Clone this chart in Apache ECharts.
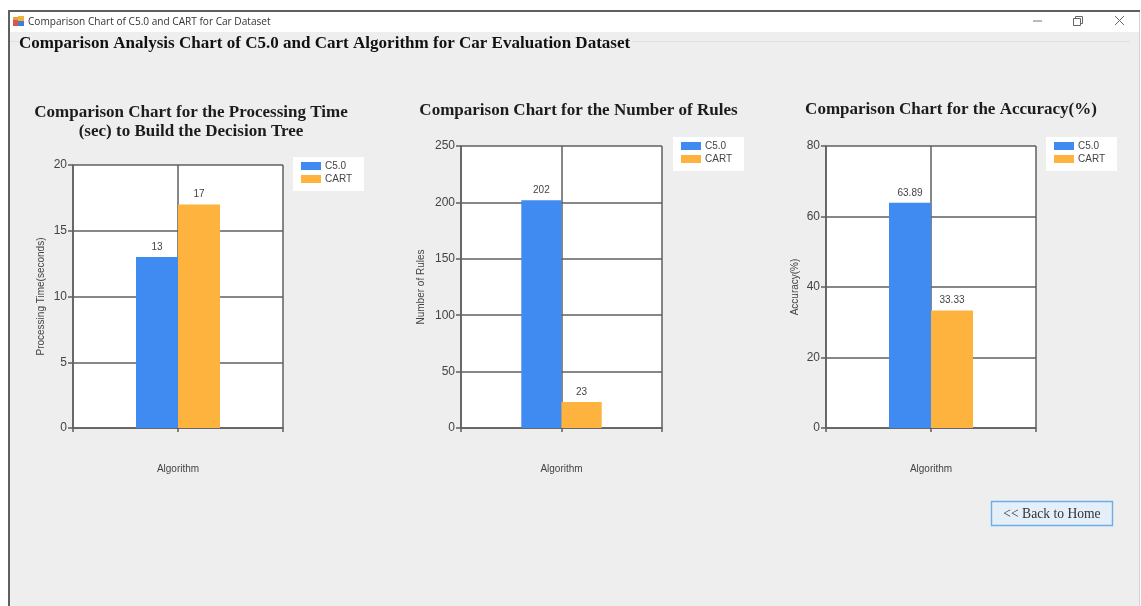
<!DOCTYPE html>
<html>
<head>
<meta charset="utf-8">
<style>
  html, body { margin: 0; padding: 0; background: #fff; }
  #chart { width: 1141px; height: 606px; }
</style>
<script src="https://cdn.jsdelivr.net/npm/echarts@6/dist/echarts.min.js"></script>
</head>
<body>
<div id="chart"></div>
<script>
// Results for the car evaluation dataset
const algorithms = ['C5.0', 'CART'];
const processingTime = [13, 17];
const ruleCount = [202, 23];
const accuracy = [63.89, 33.33];

const windowTitle = 'Comparison Chart of C5.0 and CART for Car Dataset';
const formHeading = 'Comparison Analysis Chart of C5.0 and Cart Algorithm for Car Evaluation Dataset';
const xAxisName = 'Algorithm';
const backLabel = '<< Back to Home';

const colors = ['#3f8bf1', '#fdb33e'];
const axisColor = '#5f5f5f';
const serif = '"Liberation Serif", serif';
const sans = '"Liberation Sans", Arial, sans-serif';

const panels = [
  { title: 'Comparison Chart for the Processing Time\n(sec) to Build the Decision Tree', titleX: 191, titleY: 103,
    values: processingTime, yName: 'Processing Time(seconds)', yGap: 27, max: 20, interval: 5,
    left: 73, right: 283, top: 165, legendLeft: 293, legendTop: 157 },
  { title: 'Comparison Chart for the Number of Rules', titleX: 578.5, titleY: 101,
    values: ruleCount, yName: 'Number of Rules', yGap: 35, max: 250, interval: 50,
    left: 461, right: 662, top: 146, legendLeft: 673, legendTop: 137 },
  { title: 'Comparison Chart for the Accuracy(%)', titleX: 951, titleY: 100,
    values: accuracy, yName: 'Accuracy(%)', yGap: 26, max: 80, interval: 20,
    left: 826, right: 1036, top: 146, legendLeft: 1046, legendTop: 137 }
];
const plotBottom = 428;

const chart = echarts.init(document.getElementById('chart'));

const lineStyle = { color: axisColor, width: 1.5 };

const option = {
  animation: false,
  textStyle: { fontFamily: sans },
  title: panels.map(p => ({
    text: p.title, left: p.titleX, top: p.titleY, textAlign: 'center', padding: 0, itemGap: 0,
    textStyle: { fontFamily: serif, fontWeight: 'bold', fontSize: 17, lineHeight: 19, color: '#1c1c1c' }
  })),
  legend: panels.map(p => ({
    data: algorithms, left: p.legendLeft, top: p.legendTop, orient: 'vertical',
    backgroundColor: '#ffffff', padding: [4, 12, 7, 8], itemGap: 3,
    itemWidth: 20, itemHeight: 8, itemStyle: { borderWidth: 0 }, selectedMode: false,
    icon: 'rect', textStyle: { fontFamily: sans, fontSize: 10, color: '#444444', padding: [0, 0, 0, -1] }
  })),
  grid: panels.map(p => ({
    left: p.left, width: p.right - p.left, top: p.top, height: plotBottom - p.top,
    show: true, backgroundColor: '#ffffff', borderWidth: 0, containLabel: false
  })),
  xAxis: panels.map((p, i) => ({
    type: 'value', gridIndex: i, min: 0, max: 2, interval: 1,
    name: xAxisName, nameLocation: 'middle', nameGap: 36,
    nameTextStyle: { fontFamily: sans, fontSize: 10, color: '#444444' },
    axisLabel: { show: false },
    axisLine: { show: true, lineStyle, onZero: false },
    axisTick: { show: true, length: 4, lineStyle },
    splitLine: { show: true, lineStyle }
  })),
  yAxis: panels.map((p, i) => ({
    type: 'value', gridIndex: i, min: 0, max: p.max, interval: p.interval,
    name: p.yName, nameLocation: 'middle', nameGap: p.yGap,
    nameTextStyle: { fontFamily: sans, fontSize: 10, color: '#444444' },
    axisLabel: { fontFamily: sans, fontSize: 12, color: '#444444', margin: 6 },
    axisLine: { show: true, lineStyle, onZero: false },
    axisTick: { show: true, length: 5, lineStyle },
    splitLine: { show: true, lineStyle }
  })),
  // Each algorithm sits at the midpoint of the 0..2 position axis
  series: panels.flatMap((p, i) => algorithms.map((name, j) => ({
    type: 'bar', name, xAxisIndex: i, yAxisIndex: i,
    data: [[1, p.values[j]]], barWidth: (p.right - p.left) * 0.2, barGap: 0,
    itemStyle: { color: colors[j] },
    label: { show: true, position: 'top', distance: 5, fontFamily: sans, fontSize: 10, color: '#444444',
             formatter: d => String(d.value[1]) }
  }))),
  graphic: [
    // Window surface, title bar and frame
    { type: 'rect', z: -5, shape: { x: 9, y: 11, width: 1130, height: 595 }, style: { fill: '#eeeeee' } },
    { type: 'rect', z: -4, shape: { x: 9, y: 11, width: 1130, height: 21 }, style: { fill: '#ffffff' } },
    { type: 'rect', z: -4, shape: { x: 8, y: 10, width: 1132, height: 2 }, style: { fill: '#5f5f5f' } },
    { type: 'rect', z: -4, shape: { x: 8, y: 10, width: 2, height: 596 }, style: { fill: '#5f5f5f' } },
    { type: 'rect', z: -4, shape: { x: 1139, y: 12, width: 1, height: 594 }, style: { fill: '#d4d4d4' } },
    // Group box edge either side of the heading
    { type: 'rect', z: -4, shape: { x: 10, y: 41, width: 9, height: 1 }, style: { fill: '#e0e0e0' } },
    { type: 'rect', z: -4, shape: { x: 632, y: 41, width: 498, height: 1 }, style: { fill: '#e0e0e0' } },
    // Application icon
    { type: 'rect', z: -3, shape: { x: 13, y: 20, width: 5, height: 6 }, style: { fill: '#d9534f' } },
    { type: 'rect', z: -3, shape: { x: 18, y: 16, width: 6, height: 5 }, style: { fill: '#f2b233' } },
    { type: 'rect', z: -3, shape: { x: 18, y: 21, width: 6, height: 5 }, style: { fill: '#3f7fd6' } },
    { type: 'rect', z: -3, shape: { x: 13, y: 17, width: 5, height: 3 }, style: { fill: '#e8a04a' } },
    { type: 'text', z: -3, style: { x: 28, y: 22, text: windowTitle, fill: '#333333', verticalAlign: 'middle',
      font: '10.1px "Open Sans", sans-serif' } },
    // Window buttons
    { type: 'line', z: -3, shape: { x1: 1033, y1: 21, x2: 1042, y2: 21 }, style: { stroke: '#777777', lineWidth: 1 } },
    { type: 'rect', z: -3, shape: { x: 1073.5, y: 18.5, width: 7, height: 7 }, style: { fill: '#ffffff', stroke: '#666666', lineWidth: 1 } },
    { type: 'polyline', z: -3, shape: { points: [[1075.5, 18.5], [1075.5, 16.5], [1082.5, 16.5], [1082.5, 23.5], [1080.5, 23.5]] }, style: { fill: 'none', stroke: '#666666', lineWidth: 1 } },
    { type: 'line', z: -3, shape: { x1: 1115, y1: 16, x2: 1124, y2: 25 }, style: { stroke: '#666666', lineWidth: 1 } },
    { type: 'line', z: -3, shape: { x1: 1124, y1: 16, x2: 1115, y2: 25 }, style: { stroke: '#666666', lineWidth: 1 } },
    // Form heading
    { type: 'text', z: 5, style: { x: 19, y: 43.5, text: formHeading, fill: '#111111', verticalAlign: 'middle',
      font: 'bold 17.05px "Liberation Serif", serif' } },
    // Back button
    { type: 'rect', z: 5, shape: { x: 991.5, y: 501.5, width: 121, height: 24 }, style: { fill: '#e4effa', stroke: '#6caee6', lineWidth: 1.4 } },
    { type: 'text', z: 6, style: { x: 1052, y: 514, text: backLabel, fill: '#333333', align: 'center', verticalAlign: 'middle',
      font: '13.6px "Liberation Serif", serif' } }
  ]
};

chart.setOption(option);
</script>
</body>
</html>
